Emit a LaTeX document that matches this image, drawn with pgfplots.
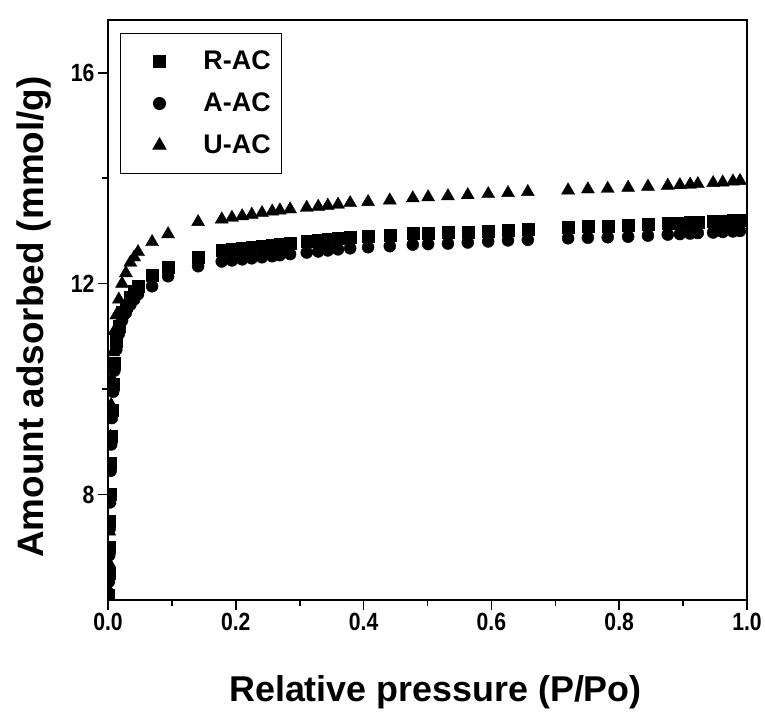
\documentclass[border=0pt]{standalone}
\usepackage{fontspec}
\setmainfont{Liberation Sans}
\newfontfamily\narrowfont[FakeStretch=0.85]{Liberation Sans}
\usepackage{pgfplots}
\usepackage{pgfplotstable}
\pgfplotsset{compat=1.18}

% R-AC (squares)
\pgfplotstableread{
x y
0.001 6.1
0.0015 6.5
0.002 7.0
0.0025 7.5
0.003 8.0
0.004 8.6
0.005 9.1
0.006 9.6
0.008 10.1
0.010 10.5
0.013 10.9
0.017 11.2
0.022 11.45
0.028 11.6
0.035 11.75
0.041 11.85
0.047 11.95
0.069 12.16
0.094 12.31
0.141 12.50
0.178 12.63
0.194 12.65
0.210 12.67
0.225 12.69
0.241 12.71
0.257 12.73
0.269 12.75
0.285 12.77
0.311 12.80
0.329 12.82
0.344 12.84
0.360 12.86
0.379 12.88
0.407 12.90
0.441 12.92
0.477 12.95
0.501 12.96
0.532 12.97
0.563 12.98
0.595 13.00
0.626 13.02
0.657 13.04
0.720 13.07
0.751 13.08
0.782 13.09
0.814 13.10
0.845 13.12
0.876 13.14
0.895 13.15
0.911 13.16
0.923 13.17
0.947 13.18
0.962 13.19
0.978 13.20
0.989 13.21
}\rac

% A-AC (circles)
\pgfplotstableread{
x y
0.0015 6.35
0.002 6.85
0.0025 7.35
0.003 7.85
0.004 8.45
0.005 8.95
0.006 9.45
0.008 9.95
0.010 10.35
0.013 10.75
0.017 11.05
0.022 11.3
0.028 11.45
0.035 11.6
0.041 11.7
0.047 11.8
0.069 11.95
0.094 12.14
0.141 12.33
0.178 12.42
0.194 12.44
0.210 12.46
0.225 12.48
0.241 12.50
0.257 12.52
0.269 12.54
0.285 12.56
0.311 12.59
0.329 12.61
0.344 12.63
0.360 12.65
0.379 12.67
0.407 12.69
0.441 12.71
0.477 12.74
0.501 12.75
0.532 12.76
0.563 12.78
0.595 12.80
0.626 12.82
0.657 12.83
0.720 12.86
0.751 12.87
0.782 12.88
0.814 12.89
0.845 12.91
0.876 12.93
0.895 12.94
0.911 12.95
0.923 12.96
0.947 12.97
0.962 12.98
0.978 12.99
0.989 13.00
}\aac

% U-AC (triangles)
\pgfplotstableread{
x y
0.001 6.2
0.0015 6.7
0.002 7.3
0.0025 7.9
0.003 8.5
0.004 9.1
0.005 9.7
0.006 10.2
0.008 10.7
0.010 11.1
0.013 11.4
0.017 11.7
0.022 12.0
0.028 12.2
0.035 12.4
0.041 12.5
0.047 12.6
0.069 12.79
0.094 12.94
0.141 13.17
0.178 13.22
0.194 13.25
0.210 13.28
0.225 13.31
0.241 13.34
0.257 13.37
0.269 13.39
0.285 13.41
0.311 13.44
0.329 13.46
0.344 13.48
0.360 13.50
0.379 13.53
0.407 13.55
0.441 13.58
0.477 13.62
0.501 13.64
0.532 13.66
0.563 13.68
0.595 13.70
0.626 13.72
0.657 13.74
0.720 13.77
0.751 13.79
0.782 13.80
0.814 13.82
0.845 13.84
0.876 13.86
0.895 13.87
0.911 13.88
0.923 13.89
0.947 13.91
0.962 13.92
0.978 13.94
0.989 13.95
}\uac

\begin{document}
\begin{tikzpicture}
\begin{axis}[
  name=ax,
  width=639bp, height=580bp, scale only axis,
  xmin=0, xmax=1, ymin=6, ymax=17,
  xtick={0,0.2,0.4,0.6,0.8,1.0},
  ytick={8,12,16},
  minor x tick num=1, minor y tick num=1,
  tick pos=left, tick align=outside,
  major tick length=10bp, minor tick length=6bp,
  every tick/.style={black, line width=1.6bp},
  axis line style={line width=2bp},
  /pgf/number format/assume math mode=true,
  tick label style={font=\narrowfont\fontsize{25}{28}\selectfont\bfseries},
  xticklabel style={/pgf/number format/.cd, fixed, fixed zerofill, precision=1},
  yticklabel style={/pgf/number format/.cd, fixed, precision=0},
  xlabel={Relative pressure (P/Po)},
  ylabel={Amount adsorbed (mmol/g)},
  every axis x label/.style={at={(axis description cs:0.5,0)}, xshift=8bp, yshift=-92bp, anchor=center, font=\fontsize{36}{40}\selectfont\bfseries},
  every axis y label/.style={at={(axis description cs:0,0.5)}, xshift=-74bp, yshift=-7bp, rotate=90, anchor=center, font=\fontsize{37}{42}\selectfont\bfseries},
  clip marker paths=true,
  legend cell align=left,
  legend image code/.code={\path[draw=none, fill=none] (0bp,-12bp) rectangle (72bp,12bp); \draw[#1] plot coordinates {(31bp,0bp)};},
  legend style={at={(rel axis cs:0,1)}, xshift=12bp, yshift=-13bp, anchor=north west,
    draw=black, line width=1bp, inner xsep=8bp, inner ysep=13bp, row sep=12bp,
    font=\fontsize{27}{30}\selectfont\bfseries,
    nodes={inner sep=3bp, text height=20bp, text depth=4bp}},
]
\addplot[only marks, black, mark=square*, mark size=6bp, mark options={fill=black, draw=black}] table[x=x,y=y] {\rac};
\addlegendentry{R-AC}
\addplot[only marks, black, mark=*, mark size=6bp, mark options={fill=black, draw=black}] table[x=x,y=y] {\aac};
\addlegendentry{A-AC}
\addplot[only marks, black, mark=triangle*, mark size=7.5bp, mark options={fill=black, draw=black}] table[x=x,y=y] {\uac};
\addlegendentry{U-AC}
\end{axis}
\pgfresetboundingbox
\path ([shift={(-108bp,-116bp)}]ax.south west) rectangle ([shift={(18bp,20bp)}]ax.north east);
\end{tikzpicture}
\end{document}
